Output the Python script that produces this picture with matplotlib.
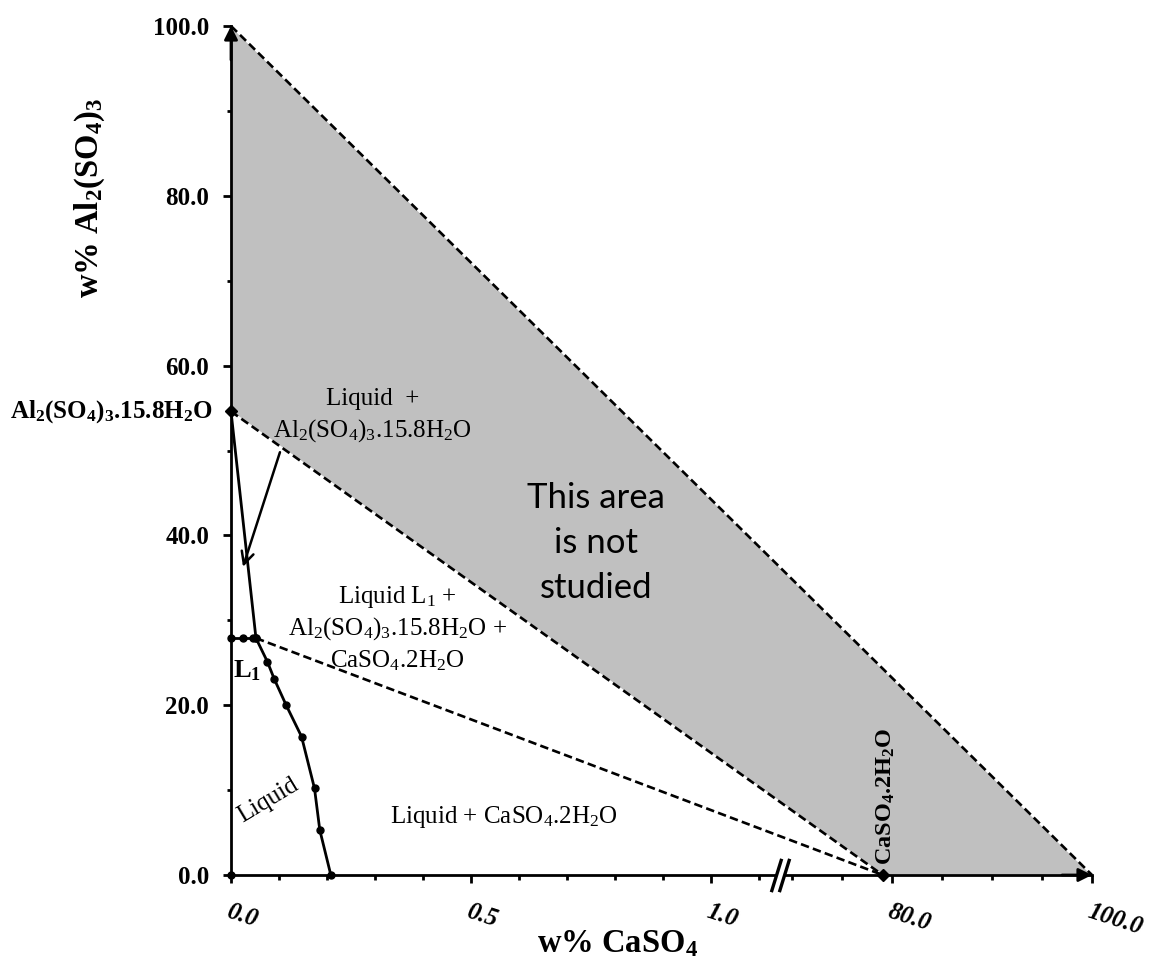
import numpy as np
import matplotlib
matplotlib.use("Agg")
import matplotlib.pyplot as plt
from matplotlib.path import Path
from matplotlib.transforms import ScaledTranslation

plt.rcParams['mathtext.fontset'] = 'custom'
plt.rcParams['mathtext.rm'] = 'Liberation Serif'
plt.rcParams['mathtext.default'] = 'regular'
plt.rcParams['font.family'] = ['Liberation Serif', 'DejaVu Serif']

# ---------------- data ----------------
hydrate_al = 54.6          # Al2(SO4)3.15.8H2O : w% Al2(SO4)3
gypsum_ca = 79.07          # CaSO4.2H2O : w% CaSO4
L1_x, L1_y = 0.052, 27.9   # invariant point L1

inv_x = [0.0, 0.024, 0.045, 0.052]
inv_y = [27.9, 27.9, 27.9, 27.9]

curve_x = [0.052, 0.076, 0.090, 0.115, 0.147, 0.174, 0.185, 0.208]
curve_y = [27.9, 25.1, 23.1, 20.0, 16.3, 10.2, 5.3, 0.0]

origin_x, origin_y = [0.0], [0.0]

unstudied_x = [0.0, 100.0, gypsum_ca, 0.0]
unstudied_y = [100.0, 0.0, 0.0, hydrate_al]

xticks_major = [0.0, 0.5, 1.0, 80.0, 100.0]
xtick_labels = ['0.0', '0.5', '1.0', '80.0', '100.0']
xticks_minor = [0.1, 0.2, 0.3, 0.4, 0.6, 0.7, 0.8, 0.9, 1.1,
                70.0, 75.0, 85.0, 90.0, 95.0]
yticks_major = [0, 20, 40, 60, 80, 100]
ytick_labels = ['0.0', '20.0', '40.0', '60.0', '80.0', '100.0']
yticks_minor = [10, 30, 50, 70, 90]
x_break = 1.144

# ---------------- broken x scale ----------------
k = 10.0 / 480.0
XB = np.array([-100.0, 0.0, 1.145, 70.0, 100.0, 200.0])
UB = np.array([-100.0, 0.0, 1.145, 1.169, 1.169 + 30 * k, 1.169 + 130 * k])


def fwd(x):
    return np.interp(np.asarray(x, dtype=float), XB, UB)


def inv(u):
    return np.interp(np.asarray(u, dtype=float), UB, XB)


fig = plt.figure(figsize=(11.52, 9.61), dpi=100)
ax = fig.add_axes([231 / 1152, 86 / 961, (1092 - 231) / 1152, 849 / 961])
ax.set_xscale('function', functions=(fwd, inv))
ax.set_xlim(0, 100)
ax.set_ylim(0, 100)

for s in ['top', 'right']:
    ax.spines[s].set_visible(False)
for s in ['left', 'bottom']:
    ax.spines[s].set_linewidth(2.0)
    ax.spines[s].set_zorder(6)

# unstudied region
ax.fill(unstudied_x, unstudied_y, facecolor='#c0c0c0', edgecolor='white', lw=1.0, zorder=1)

dash = (0, (3.2, 1.6))
dlw = 1.9
ax.plot([unstudied_x[0], unstudied_x[1]], [unstudied_y[0], unstudied_y[1]],
        color='k', lw=dlw, ls=dash, zorder=3, clip_on=False)
ax.plot([unstudied_x[3], unstudied_x[2]], [unstudied_y[3], unstudied_y[2]],
        color='k', lw=dlw, ls=dash, zorder=3)
ax.plot([L1_x, gypsum_ca], [L1_y, 0.0], color='k', lw=dlw, ls=dash, zorder=3)

# solid lines
slw = 2.0
ax.plot([0.0, L1_x], [hydrate_al, L1_y], color='k', lw=slw, zorder=4)
ax.plot(inv_x, inv_y, color='k', lw=slw, marker='o', ms=5, zorder=4, clip_on=False)
ax.plot(curve_x, curve_y, color='k', lw=slw, marker='o', ms=5, zorder=4, clip_on=False)
ax.plot(origin_x, origin_y, 'o', color='k', ms=5, zorder=7, clip_on=False)

# diamonds
ax.plot([0.0, gypsum_ca], [hydrate_al, 0.0], 'D', color='k', ms=6.5, zorder=7, clip_on=False)

# axis arrows
ax.annotate('', xy=(0, 100), xytext=(0, 96),
            arrowprops=dict(arrowstyle='-|>', color='k', lw=2.0, shrinkA=0, shrinkB=0,
                            mutation_scale=20), annotation_clip=False, zorder=8)
ax.annotate('', xy=(100, 0), xytext=(97, 0),
            arrowprops=dict(arrowstyle='-|>', color='k', lw=2.0, shrinkA=0, shrinkB=0,
                            mutation_scale=20), annotation_clip=False, zorder=8)

# axis break
slash = Path([[-0.31, -1.0], [0.31, 1.0]])
ax.plot([x_break], [0], marker='_', color='white', ms=6, mew=4,
        zorder=9, clip_on=False)
for dx_pt in (-2.7, 2.7):
    tr = ax.transData + ScaledTranslation(dx_pt / 72, 0, fig.dpi_scale_trans)
    ax.plot([x_break], [0], marker=slash, color='k', ms=24, mew=2.4,
            transform=tr, zorder=10, clip_on=False)

# ticks
ax.set_xticks(xticks_major, xtick_labels, fontsize=18, fontweight='bold',
              fontstyle='italic', rotation=-18, ha='left', va='top',
              rotation_mode='anchor')
ax.set_xticks(xticks_minor, minor=True)
ax.set_yticks(yticks_major, ytick_labels, fontsize=18, fontweight='bold')
ax.set_yticks(yticks_minor, minor=True)
ax.tick_params(axis='x', which='major', length=5.8, width=2.0, pad=12)
ax.tick_params(axis='x', which='minor', length=3.6, width=2.0)
ax.tick_params(axis='y', which='major', length=5.8, width=2.0, pad=10)
ax.tick_params(axis='y', which='minor', length=3.2, width=2.0)

# axis labels
fig.text(90 / 1152, 1 - 198 / 961, 'w% Al$_2$(SO$_4$)$_3$', rotation=90,
         ha='center', va='center', fontsize=23.5, fontweight='bold')
fig.text(618 / 1152, 1 - 944 / 961, 'w% CaSO$_4$', ha='center', va='center',
         fontsize=23.5, fontweight='bold')

# annotations
fs = 18
ax.text(0.296, 55.36, 'Liquid  +', ha='center', va='baseline', fontsize=fs, zorder=5)
ax.text(0.294, 51.6, 'Al$_2$(SO$_4$)$_3$.15.8H$_2$O', ha='center', va='baseline', fontsize=fs, zorder=5)
ax.annotate('', xy=(0.025, 36.3), xytext=(0.102, 49.8),
            arrowprops=dict(arrowstyle='->', color='k', lw=1.8, shrinkA=0, shrinkB=0,
                            mutation_scale=22), zorder=5)

for txt, yy in [('This area', 43.2), ('is not', 37.9), ('studied', 32.6)]:
    ax.text(0.761, yy, txt, ha='center', va='baseline', fontsize=25,
            family=['Lato', 'DejaVu Sans'], zorder=5)

ax.text(0.346, 32.0, 'Liquid L$_1$ +', ha='center', va='baseline', fontsize=fs, zorder=5)
ax.text(0.346, 28.3, 'Al$_2$(SO$_4$)$_3$.15.8H$_2$O +', ha='center', va='baseline', fontsize=fs, zorder=5)
ax.text(0.346, 24.4, 'CaSO$_4$.2H$_2$O', ha='center', va='baseline', fontsize=fs, zorder=5)

ax.text(0.004, 23.3, 'L$_1$', ha='left', va='baseline', fontsize=19, fontweight='bold', zorder=5)
ax.text(0.077, 8.8, 'Liquid', ha='center', va='center', rotation=31, fontsize=fs, zorder=5)
ax.text(0.331, 6.1, 'Liquid + CaSO$_4$.2H$_2$O', ha='left', va='baseline', fontsize=fs, zorder=5)

ax.annotate('CaSO$_4$.2H$_2$O', xy=(gypsum_ca, 0), xytext=(2, 7), textcoords='offset points',
            rotation=90, ha='center', va='bottom', fontsize=17.5, fontweight='bold', zorder=5)
ax.annotate('Al$_2$(SO$_4$)$_3$.15.8H$_2$O', xy=(0, hydrate_al), xytext=(-13, 0),
            textcoords='offset points', ha='right', va='center', fontsize=18,
            fontweight='bold', annotation_clip=False)

fig.savefig('out.png', dpi=100)
